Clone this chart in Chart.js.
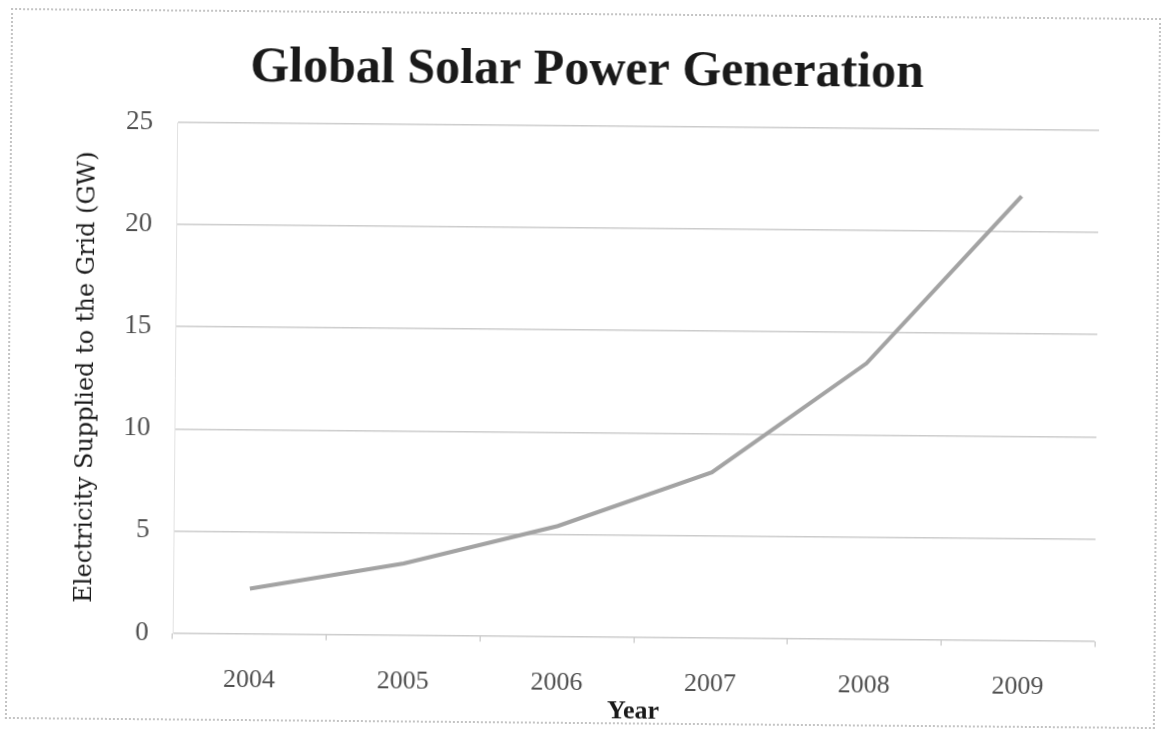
<!DOCTYPE html>
<html>
<head>
<meta charset="utf-8">
<title>Global Solar Power Generation</title>
<script src="https://cdn.jsdelivr.net/npm/chart.js@4.4.1/dist/chart.umd.min.js"></script>
<style>
  html, body { margin: 0; padding: 0; background: #fff; }
  body { width: 1161px; height: 734px; overflow: hidden; }
  #wrap {
    position: absolute; left: 0; top: 0; width: 1161px; height: 734px;
    transform: rotate(0.5deg); transform-origin: 580px 367px;
  }
  #frame {
    position: absolute; left: 8px; top: 13px; width: 1150px; height: 711px;
    border: 2px dotted #c4c4c4; box-sizing: border-box;
  }
  canvas { position: absolute; left: 0; top: 0; }
</style>
</head>
<body>
<div id="wrap">
  <div id="frame"></div>
  <canvas id="chart" width="1161" height="734"></canvas>
</div>
<script>
// Years on the horizontal axis
const years = ['2004', '2005', '2006', '2007', '2008', '2009'];
// Electricity supplied to the grid, GW
const gridPowerGW = [2.2, 3.5, 5.4, 8.1, 13.5, 21.75];
// Value axis ticks
const yTicks = [0, 5, 10, 15, 20, 25];

const serif = '"Liberation Serif", "Times New Roman", serif';
const wideSerif = '"DejaVu Serif", "Liberation Serif", serif';

new Chart(document.getElementById('chart'), {
  type: 'line',
  data: {
    labels: years,
    datasets: [{
      label: 'Electricity Supplied to the Grid (GW)',
      data: gridPowerGW,
      borderColor: '#a3a3a3',
      borderWidth: 4,
      tension: 0,
      pointRadius: 0,
      fill: false
    }]
  },
  options: {
    responsive: false,
    animation: false,
    layout: { padding: { left: 72, right: 64, top: 0, bottom: 10 } },
    plugins: {
      legend: { display: false },
      tooltip: { enabled: false },
      title: {
        display: true,
        text: 'Global Solar Power Generation',
        color: '#1a1a1a',
        font: { family: serif, size: 50, weight: 'bold', lineHeight: 1.2 },
        padding: { top: 41, bottom: 25 }
      }
    },
    scales: {
      x: {
        type: 'category',
        offset: true,
        afterFit: (s) => { s.height = 87.5; },
        grid: {
          offset: true,
          drawOnChartArea: false,
          drawTicks: true,
          tickLength: 6,
          color: '#bdbdbd'
        },
        border: { display: false },
        ticks: {
          color: '#505050',
          padding: 25,
          font: { family: serif, size: 26 }
        },
        title: {
          display: true,
          text: 'Year',
          color: '#1a1a1a',
          padding: 0,
          font: { family: serif, size: 26, weight: 'bold', lineHeight: 1 }
        }
      },
      y: {
        min: 0,
        max: 25,
        afterFit: (s) => { s.width = 103; },
        afterBuildTicks: (s) => { s.ticks = yTicks.map(v => ({ value: v })); },
        grid: {
          color: '#cccccc',
          lineWidth: 1.5,
          drawTicks: false
        },
        border: { display: true, color: '#e2e2e2', width: 1 },
        ticks: {
          color: '#505050',
          padding: 24,
          font: { family: serif, size: 27 }
        },
        title: {
          display: true,
          text: 'Electricity Supplied to the Grid (GW)',
          color: '#1a1a1a',
          padding: 0,
          font: { family: wideSerif, size: 24, lineHeight: 1.2 }
        }
      }
    }
  }
});
</script>
</body>
</html>
